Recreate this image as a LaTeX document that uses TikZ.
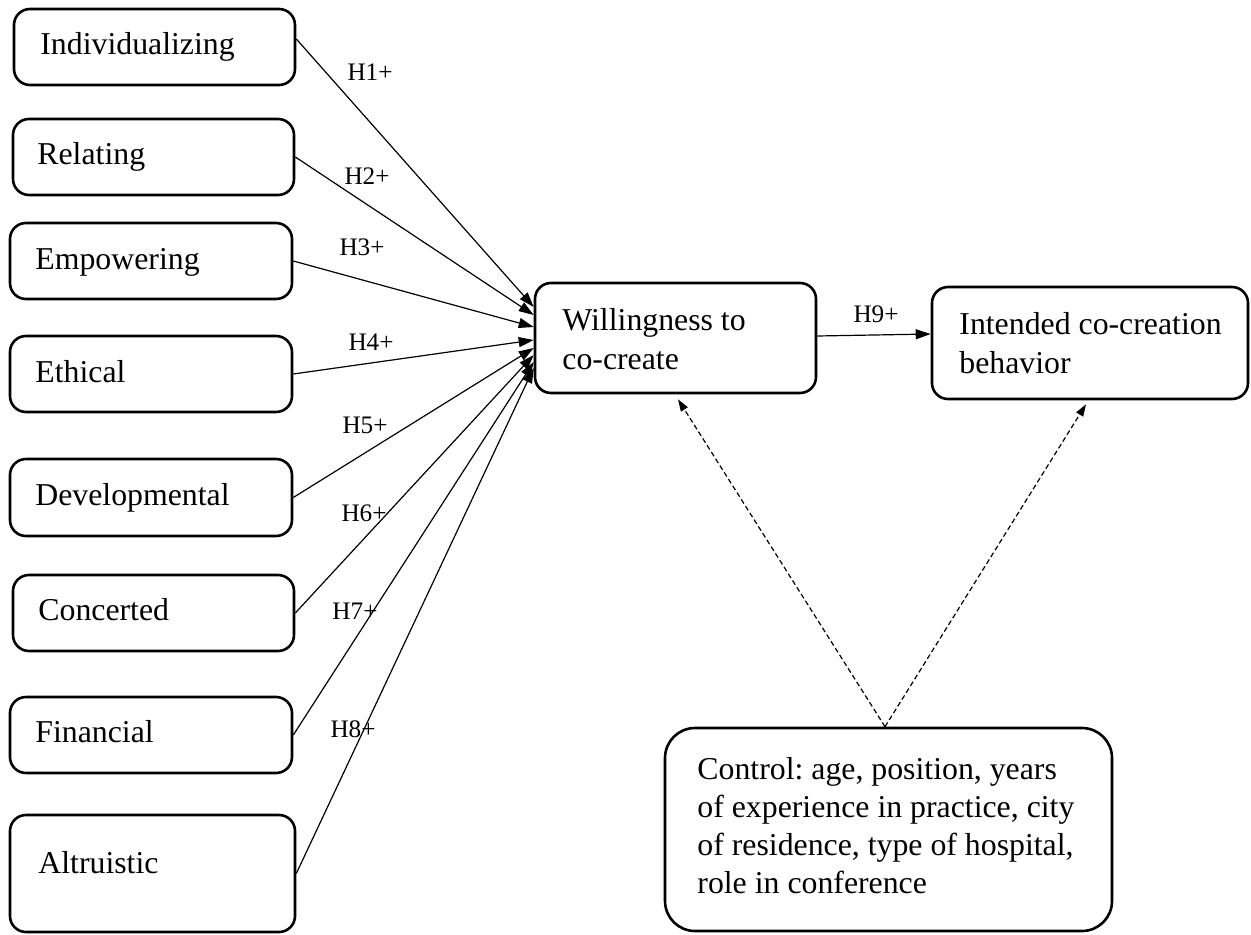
\documentclass[tikz,border=0pt]{standalone}
\usepackage{fontspec}
\setmainfont{Liberation Serif}
\frenchspacing
\usetikzlibrary{arrows.meta}
\begin{document}
\begin{tikzpicture}[x=0.5pt,y=-0.5pt,
 box/.style={draw, line width=1.3pt, rounded corners=8pt, inner sep=0pt},
 txt/.style={anchor=base west, align=left, inner sep=0pt, font=\fontsize{15.9}{19.5}\selectfont},
 hyp/.style={font=\fontsize{12.6}{15}\selectfont, inner sep=0pt},
 conn/.style={line width=0.6pt, -{Triangle[length=7.5pt,width=5pt]}},
 ctrl/.style={line width=0.6pt, dash pattern=on 2.5pt off 1.5pt, -{Triangle[length=6pt,width=4pt]}}]
\useasboundingbox (0,0) rectangle (1251,935);

\node[box,minimum width=140.5pt,minimum height=38pt] (b1) at (154.5,47) {};
\node[box,minimum width=140.5pt,minimum height=38pt] (b2) at (153.5,157) {};
\node[box,minimum width=141pt,minimum height=38pt] (b3) at (151,261) {};
\node[box,minimum width=141pt,minimum height=38pt] (b4) at (151,374) {};
\node[box,minimum width=141pt,minimum height=38.5pt] (b5) at (151,497.5) {};
\node[box,minimum width=140.5pt,minimum height=38pt] (b6) at (153.5,613) {};
\node[box,minimum width=141pt,minimum height=38pt] (b7) at (151,735) {};
\node[box,minimum width=142.5pt,minimum height=58.5pt] (b8) at (152.5,873.5) {};
\node[box,minimum width=140.5pt,minimum height=55pt] (W) at (675.5,338) {};
\node[box,minimum width=158pt,minimum height=56pt] (I) at (1090,343) {};
\node[box,rounded corners=15pt,minimum width=223.5pt,minimum height=101.5pt] (C) at (888.5,829.5) {};

\node[txt] (t1) at (40,55) {Individualizing};
\node[txt] (t2) at (37,165) {Relating};
\node[txt] (t3) at (35,270) {Empowering};
\node[txt] (t4) at (35,382) {Ethical};
\node[txt] (t5) at (35,505) {Developmental};
\node[txt] (t6) at (38,620) {Concerted};
\node[txt] (t7) at (35,742) {Financial};
\node[txt] (t8) at (38,873) {Altruistic};
\node[txt] (tW) at (562,369) {Willingness to\\co-create};
\node[txt] (tI) at (959,373) {Intended co-creation\\behavior};
\node[txt,font=\fontsize{15.9}{18.9}\selectfont] (tC) at (697,893) {Control: age, position, years\\of experience in practice, city\\of residence, type of hospital,\\role in conference};

\draw[conn] ([yshift=4pt]b1.east) -- ([yshift=15.5pt]W.west);
\draw[conn] (b2.east) -- ([yshift=11.5pt]W.west);
\draw[conn] (b3.east) -- ([yshift=5.5pt]W.west);
\draw[conn] (b4.east) -- ([yshift=-1pt]W.west);
\draw[conn] (b5.east) -- ([yshift=-5pt]W.west);
\draw[conn] (b6.east) -- ([yshift=-8.5pt]W.west);
\draw[conn] (b7.east) -- ([yshift=-12pt]W.west);
\draw[conn] (b8.east) -- ([yshift=-15pt]W.west);
\draw[conn] ([yshift=1pt]W.east) -- ([yshift=4.5pt]I.west);

\draw[ctrl] ([xshift=-1.75pt]C.north) -- ([xshift=1.25pt,yshift=-2.5pt]W.south);
\draw[ctrl] ([xshift=-1.75pt]C.north) -- ([xshift=-2pt,yshift=-2pt]I.south);

\node[hyp] (h1) at (370,72) {H1+};
\node[hyp] (h2) at (367,176) {H2+};
\node[hyp] (h3) at (362,247) {H3+};
\node[hyp] (h4) at (371,342) {H4+};
\node[hyp] (h5) at (365,425) {H5+};
\node[hyp] (h6) at (364,513) {H6+};
\node[hyp] (h7) at (355,611) {H7+};
\node[hyp] (h8) at (353,729) {H8+};
\node[hyp] (h9) at (876,314) {H9+};
\end{tikzpicture}
\end{document}
